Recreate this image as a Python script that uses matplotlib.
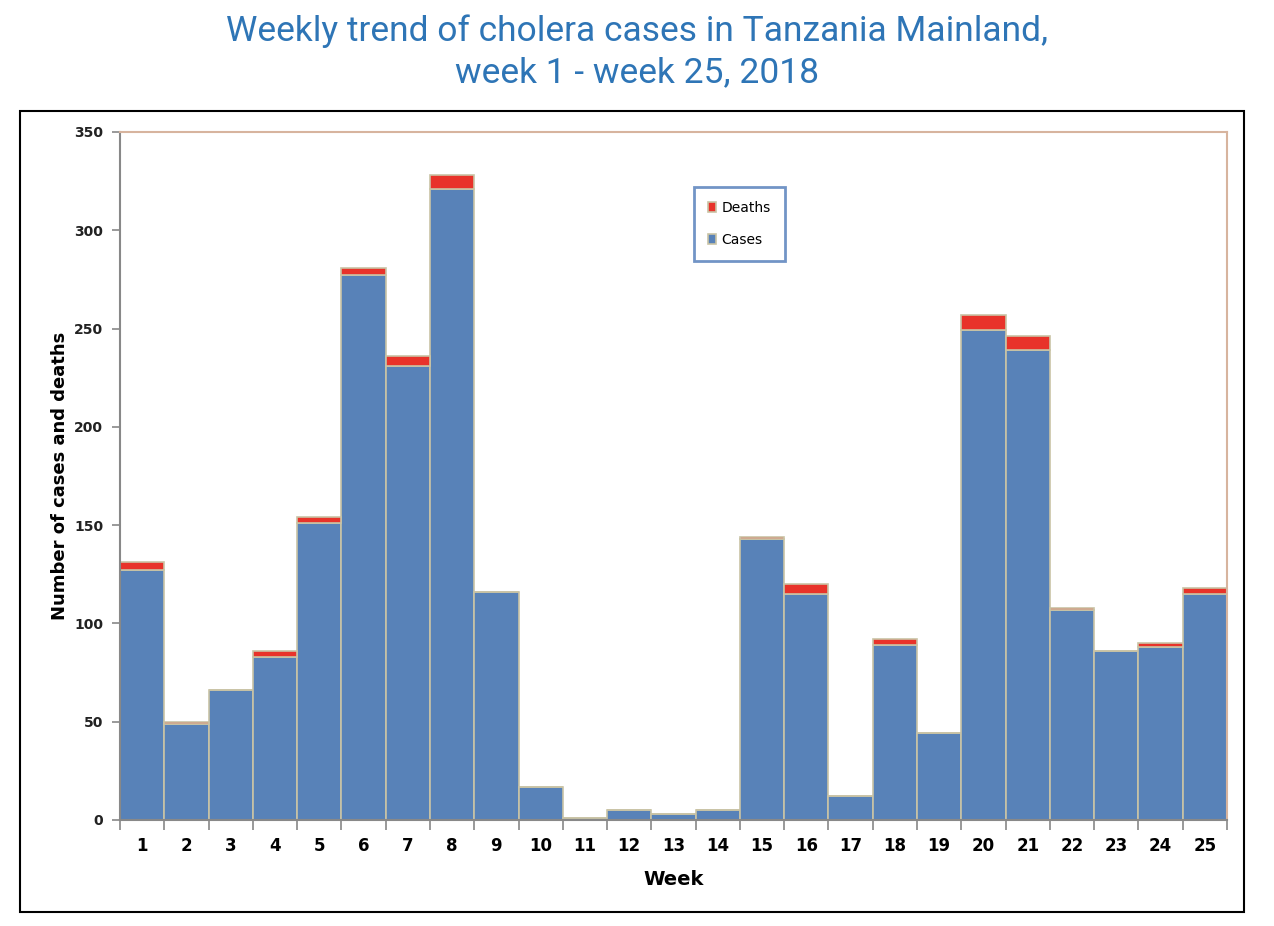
import numpy as np
import matplotlib.pyplot as plt
from matplotlib.patches import Rectangle

weeks = list(range(1, 26))
cases = [127, 49, 66, 83, 151, 277, 231, 321, 116, 17, 1, 5, 3, 5,
         143, 115, 12, 89, 44, 249, 239, 107, 86, 88, 115]
deaths = [4, 1, 0, 3, 3, 4, 5, 7, 0, 0, 0, 0, 0, 0,
          1, 5, 0, 3, 0, 8, 7, 1, 0, 2, 3]
yticks = [0, 50, 100, 150, 200, 250, 300, 350]

blue = '#5882B8'
red = '#E8332A'
edge = '#C9C3A5'

fig = plt.figure(figsize=(12.74, 9.26), dpi=100)
ax = fig.add_axes([0.0942, 0.1145, 0.8689, 0.743])

ax.bar(weeks, cases, width=1.0, color=blue, edgecolor=edge, linewidth=1.2, label='Cases')
ax.bar(weeks, deaths, width=1.0, bottom=cases, color=red, edgecolor=edge, linewidth=1.2, label='Deaths')

ax.set_xlim(0.5, 25.5)
ax.set_ylim(0, 350)
ax.set_yticks(yticks)
ax.set_yticklabels([str(v) for v in yticks], fontsize=10, fontweight='bold', color='#222222')

# ticks at bar boundaries, labels at centres
ax.set_xticks(np.arange(0.5, 26, 1))
ax.set_xticklabels([])
ax.set_xticks(weeks, minor=True)
ax.set_xticklabels([str(w) for w in weeks], minor=True, fontsize=12, fontweight='bold')
ax.tick_params(axis='x', which='major', length=7, color='#888888', width=1.2)
ax.tick_params(axis='x', which='minor', length=0, pad=12)
ax.tick_params(axis='y', length=6, color='#888888', width=1.2, pad=6)

for s in ['left', 'bottom']:
    ax.spines[s].set_color('#888888')
    ax.spines[s].set_linewidth(1.5)
for s in ['top', 'right']:
    ax.spines[s].set_color('#D7B49E')
    ax.spines[s].set_linewidth(1.5)

ax.set_xlabel('Week', fontsize=14, fontweight='bold', labelpad=11)
ax.set_ylabel('Number of cases and deaths', fontsize=13, fontweight='bold', labelpad=4)

h, l = ax.get_legend_handles_labels()
leg = ax.legend(h[::-1], l[::-1], loc='upper left', bbox_to_anchor=(0.512, 0.93),
                fontsize=10, frameon=True, fancybox=False, handlelength=0.6,
                handleheight=0.7, labelspacing=1.3, borderpad=1.0, handletextpad=0.4)
leg.get_frame().set_edgecolor('#4F7AB8')
leg.get_frame().set_linewidth(2)

fig.text(0.5, 0.985, 'Weekly trend of cholera cases in Tanzania Mainland,\nweek 1 - week 25, 2018',
         ha='center', va='top', fontsize=25.5, color='#2E75B6', family='Roboto',
         linespacing=1.32)

fig.patches.append(Rectangle((20 / 1274, 1 - 912 / 926), 1224 / 1274, 801 / 926,
                             transform=fig.transFigure, fill=False, edgecolor='black',
                             linewidth=1.5))

plt.savefig('out.png', dpi=100)
